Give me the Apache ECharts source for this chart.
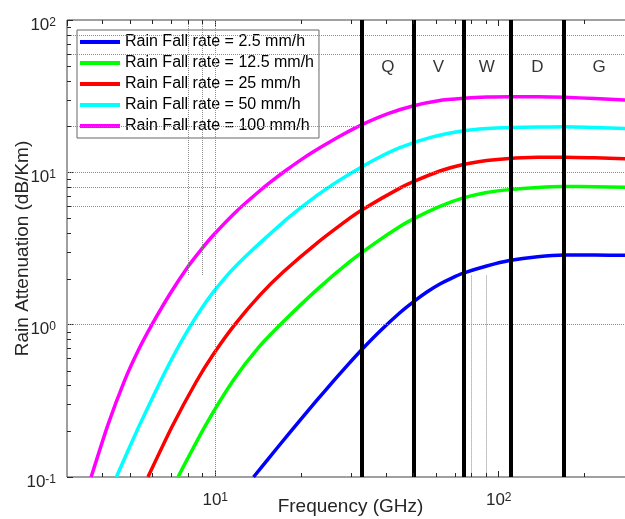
<!DOCTYPE html>
<html lang="en">
<head>
  <meta charset="UTF-8">
  <script src="https://cdn.jsdelivr.net/npm/echarts@6.0.0/dist/echarts.min.js"></script>
  <style>body { margin: 0; background: #fff; }</style>
</head>
<body>
  <div id="rainChart" style="width:625px;height:519px;"></div>

  <script type="text/javascript">
    // [frequency GHz, attenuation dB/Km]
    var rate2p5 = [[13.65, 0.1], [16.53, 0.155], [19.9, 0.235], [22.8, 0.318], [26.1, 0.426], [29.4, 0.546],
      [33.1, 0.694], [38.4, 0.918], [44.8, 1.197], [50, 1.411], [55.8, 1.637], [62, 1.848], [68.3, 2.023],
      [75, 2.178], [90.7, 2.426], [109, 2.636], [137.2, 2.796], [170.6, 2.864], [217.8, 2.864],
      [278, 2.851], [300, 2.843]];
    var rate12p5 = [[7.39, 0.1], [9.22, 0.2165], [11.6, 0.433], [14.2, 0.707], [17.4, 1.048], [22.8, 1.692],
      [29.9, 2.60], [36.6, 3.43], [44.8, 4.41], [50, 4.95], [62, 5.98], [75, 6.79], [90.7, 7.38],
      [109, 7.70], [137.2, 7.96], [168, 8.08], [217.8, 8.05], [278, 7.97], [300, 7.95]];
    var rate25 = [[5.79, 0.1], [7.06, 0.216], [8.57, 0.422], [9.86, 0.642], [11.76, 1.009], [14.4, 1.569],
      [17.4, 2.225], [22.8, 3.42], [29.9, 5.02], [33.1, 5.71], [44.8, 7.88], [50, 8.68], [62, 10.2],
      [75, 11.25], [90.7, 11.95], [109, 12.34], [137.2, 12.54], [170.6, 12.56], [217.8, 12.45],
      [278, 12.28], [300, 12.23]];
    var rate50 = [[4.48, 0.1], [5.37, 0.2133], [6.44, 0.433], [7.29, 0.677], [8.23, 1.0], [9.01, 1.30],
      [9.86, 1.64], [11.36, 2.245], [13.09, 2.925], [17.35, 4.695], [19.9, 5.79], [22.8, 7.03], [26.1, 8.37],
      [29.9, 9.80], [36.6, 12.15], [44.8, 14.53], [58.0, 17.02], [75.2, 18.75], [91.0, 19.4], [110, 19.69],
      [137.2, 19.84], [170.6, 19.9], [217.8, 19.69], [278, 19.4], [300, 19.3]];
    var rate100 = [[3.65, 0.1], [4.18, 0.219], [4.78, 0.426], [5.36, 0.681], [5.98, 1.0], [6.93, 1.596],
      [8.01, 2.40], [8.89, 3.09], [9.86, 3.88], [11.92, 5.58], [14.4, 7.60], [15.94, 8.85], [17.64, 10.2],
      [20.6, 12.49], [24.2, 15.04], [28.3, 17.79], [33.1, 20.66], [40.7, 24.29], [50.1, 27.37], [61.3, 29.52],
      [75.2, 30.6], [91.0, 31.2], [110, 31.35], [137.2, 31.3], [170.6, 31.1], [217.8, 30.5], [278, 29.8],
      [300, 29.6]];

    var seriesNames = ['Rain Fall rate = 2.5 mm/h', 'Rain Fall rate = 12.5 mm/h', 'Rain Fall rate = 25 mm/h',
      'Rain Fall rate = 50 mm/h', 'Rain Fall rate = 100 mm/h'];
    var seriesColors = ['#0000ff', '#00ff00', '#ff0000', '#00ffff', '#ff00ff'];
    var seriesData = [rate2p5, rate12p5, rate25, rate50, rate100];

    // band edges (GHz) and band letters
    var bandEdges = [33, 50, 75, 110, 170, 300];
    var bandNames = ['Q', 'V', 'W', 'D', 'G'];
    var bandLabelY = 49;

    var xMin = 3, xMax = 300, yMin = 0.1, yMax = 100;
    var xMinorTicks = [4, 5, 6, 7, 8, 9, 20, 30, 40, 50, 60, 70, 80, 90, 200];
    var yMinorTicks = [0.2, 0.3, 0.4, 0.5, 0.6, 0.7, 0.8, 0.9, 2, 3, 4, 5, 6, 7, 8, 9,
      20, 30, 40, 50, 60, 70, 80, 90];

    // the stray dotted grid pieces of the original
    var dottedRows = [80, 60, 10, 8, 6, 1];
    var dottedCols = [10];
    var dottedPieces = [
      [[3, 20], [33, 20]],
      [[8, 100], [8, 2.1]],
      [[9, 100], [9, 2.1]],
      [[80, 2.1], [80, 0.1]],
      [[90, 2.1], [90, 0.1]]
    ];

    var font = "'Liberation Sans', Arial, sans-serif";
    var ink = '#262626';

    function powerLabel(value) {
      return '{b|10}{sup|' + Math.round(Math.log10(value)) + '}';
    }

    function powerRich(supGap) {
      return {
        b: { fontFamily: font, fontSize: 17, lineHeight: 17, color: ink, verticalAlign: 'bottom' },
        sup: { fontFamily: font, fontSize: 12, lineHeight: 12, color: ink, verticalAlign: 'top', padding: [0, 0, supGap, 0] }
      };
    }

    function minorTicksX(params, api) {
      var x = Math.round(api.coord([api.value(0), yMin])[0]) + 0.5;
      var cs = params.coordSys;
      var st = { stroke: ink, lineWidth: 1 };
      return {
        type: 'group',
        children: [
          { type: 'line', shape: { x1: x, y1: cs.y + cs.height, x2: x, y2: cs.y + cs.height - 4 }, style: st },
          { type: 'line', shape: { x1: x, y1: cs.y, x2: x, y2: cs.y + 4 }, style: st }
        ]
      };
    }

    function minorTicksY(params, api) {
      var y = Math.round(api.coord([xMin, api.value(1)])[1]) + 0.5;
      var cs = params.coordSys;
      return {
        type: 'line',
        shape: { x1: cs.x, y1: y, x2: cs.x + 4, y2: y },
        style: { stroke: ink, lineWidth: 1 }
      };
    }

    var chart = echarts.init(document.getElementById('rainChart'));

    var curves = seriesData.map(function (d, i) {
      return {
        name: seriesNames[i],
        type: 'line',
        data: d,
        showSymbol: false,
        smooth: 0.2,
        lineStyle: { color: seriesColors[i], width: 3.5, join: 'round' },
        itemStyle: { color: seriesColors[i] },
        z: 3
      };
    });

    var dottedLines = dottedRows.map(function (v) { return { yAxis: v }; })
      .concat(dottedCols.map(function (v) { return { xAxis: v }; }))
      .concat(dottedPieces.map(function (p) { return [{ coord: p[0] }, { coord: p[1] }]; }));

    var option = {
      animation: false,
      grid: {
        left: 67, right: -9, top: 20, bottom: 42,
        show: true, borderColor: '#404040', borderWidth: 1,
        outerBoundsMode: 'none'
      },
      legend: {
        data: seriesNames,
        orient: 'vertical',
        left: 77, top: 30,
        padding: [3, 5, 3, 3],
        itemGap: 3,
        itemWidth: 40, itemHeight: 4,
        icon: 'rect',
        backgroundColor: '#fff',
        borderColor: '#666', borderWidth: 1,
        textStyle: { fontFamily: font, fontSize: 16, lineHeight: 18, color: '#000' }
      },
      xAxis: [{
        type: 'log', logBase: 10, min: xMin, max: xMax,
        name: 'Frequency (GHz)', nameLocation: 'middle', nameGap: 20, nameMoveOverlap: false,
        nameTextStyle: { fontFamily: font, fontSize: 19, color: ink },
        axisLine: { show: false },
        axisTick: { inside: true, length: 6, lineStyle: { color: ink } },
        splitLine: { show: false },
        axisLabel: {
          margin: 15, showMinLabel: false, showMaxLabel: false,
          formatter: powerLabel,
          rich: powerRich(8)
        }
      }, {
        type: 'log', logBase: 10, min: xMin, max: xMax, position: 'top',
        axisLine: { show: false },
        axisTick: { inside: true, length: 6, lineStyle: { color: ink } },
        axisLabel: { show: false },
        splitLine: { show: false }
      }],
      yAxis: {
        type: 'log', logBase: 10, min: yMin, max: yMax,
        name: 'Rain Attenuation (dB/Km)', nameLocation: 'middle', nameGap: 35, nameMoveOverlap: false,
        nameTextStyle: { fontFamily: font, fontSize: 19, color: ink },
        axisLine: { show: false },
        axisTick: { inside: true, length: 6, lineStyle: { color: ink } },
        splitLine: { show: false },
        axisLabel: {
          margin: 11,
          padding: [10, 0, 0, 0],
          formatter: powerLabel,
          rich: powerRich(15)
        }
      },
      series: [{
        name: 'grid',
        type: 'line',
        data: [],
        z: 1,
        markLine: {
          silent: true,
          symbol: 'none',
          label: { show: false },
          lineStyle: { color: '#8c8c8c', type: 'dotted', width: 1 },
          data: dottedLines
        }
      }].concat(curves).concat([{
        name: 'bands',
        type: 'scatter',
        symbolSize: 1,
        itemStyle: { color: 'transparent' },
        z: 10,
        data: bandNames.map(function (n, i) {
          return { name: n, value: [Math.sqrt(bandEdges[i] * bandEdges[i + 1]), bandLabelY] };
        }),
        label: {
          show: true, position: 'inside', formatter: '{b}',
          fontFamily: font, fontSize: 17, color: '#000'
        },
        markLine: {
          silent: true,
          symbol: 'none',
          label: { show: false },
          lineStyle: { color: '#000', type: 'solid', width: 4 },
          data: bandEdges.slice(0, 5).map(function (v) { return { xAxis: v }; })
        }
      }, {
        name: 'xMinor',
        type: 'custom',
        renderItem: minorTicksX,
        data: xMinorTicks.map(function (v) { return [v, yMin]; }),
        z: 11
      }, {
        name: 'yMinor',
        type: 'custom',
        renderItem: minorTicksY,
        data: yMinorTicks.map(function (v) { return [xMin, v]; }),
        z: 11
      }])
    };

    chart.setOption(option);
  </script>
</body>
</html>
